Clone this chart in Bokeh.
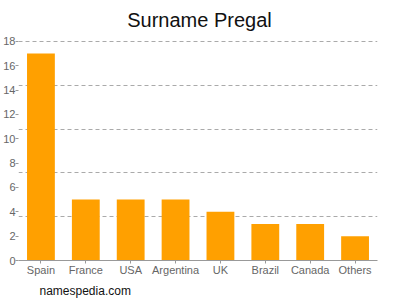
from bokeh.plotting import figure
from bokeh.models import FixedTicker, Title, Label
from bokeh.embed import file_html
from bokeh.resources import INLINE

countries = ["Spain", "France", "USA", "Argentina", "UK", "Brazil", "Canada", "Others"]
counts = [17, 5, 5, 5, 4, 3, 3, 2]
y_ticks = [0, 2, 4, 6, 8, 10, 12, 14, 16, 18]
grid_lines = [3.6, 7.2, 10.8, 14.4, 18]
title_text = "Surname Pregal"
footer_text = "namespedia.com"

# layout (pixels): frame spans from canvas top to the x axis at y=261;
# the value 18 sits 41 px below the top of the canvas
LEFT, RIGHT, BOTTOM = 17, 23, 39
FRAME_H = 300 - BOTTOM
Y_TOP_PX = 41
y_end = 18 * FRAME_H / (FRAME_H - Y_TOP_PX)
font = "Liberation Sans"

p = figure(x_range=countries, y_range=(0, y_end), width=400, height=300,
           output_backend="svg", toolbar_location=None,
           min_border_left=LEFT, min_border_right=RIGHT, min_border_top=0, min_border_bottom=BOTTOM)
p.title = None
p.outline_line_color = None
p.background_fill_color = "white"
p.border_fill_color = "white"

p.add_layout(Title(text=footer_text, align="left", offset=38 - LEFT, text_font=font,
                   text_font_size="12px", text_font_style="normal", text_color="#111111",
                   standoff=6), "below")

p.vbar(x=countries, top=counts, width=0.62, color="#FFA000", line_color=None)

p.xgrid.grid_line_color = None
p.ygrid.ticker = FixedTicker(ticks=grid_lines)
p.ygrid.grid_line_color = "#aaaaaa"
p.ygrid.grid_line_dash = "4 3"
p.ygrid.grid_line_width = 1

p.yaxis.ticker = FixedTicker(ticks=y_ticks)
p.yaxis.axis_line_color = None
p.yaxis.major_tick_line_color = "#999999"
p.yaxis.major_tick_in = 0
p.yaxis.major_tick_out = 3
p.yaxis.minor_tick_line_color = None
p.yaxis.major_label_text_font = font
p.yaxis.major_label_text_font_size = "11px"
p.yaxis.major_label_text_color = "#666666"
p.yaxis.major_label_standoff = 0

p.xaxis.axis_line_color = "#999999"
p.xaxis.major_tick_line_color = "#999999"
p.xaxis.major_tick_in = 0
p.xaxis.major_tick_out = 3
p.xaxis.major_label_text_font = font
p.xaxis.major_label_text_font_size = "11px"
p.xaxis.major_label_text_color = "#666666"
p.xaxis.major_label_standoff = 0

p.add_layout(Label(x=198 - LEFT, y=FRAME_H - 20, x_units="screen", y_units="screen",
                   text=title_text, text_font=font, text_font_size="20px", text_color="#111111",
                   text_align="center", text_baseline="alphabetic"))

open("out.html", "w").write(file_html(p, INLINE))
